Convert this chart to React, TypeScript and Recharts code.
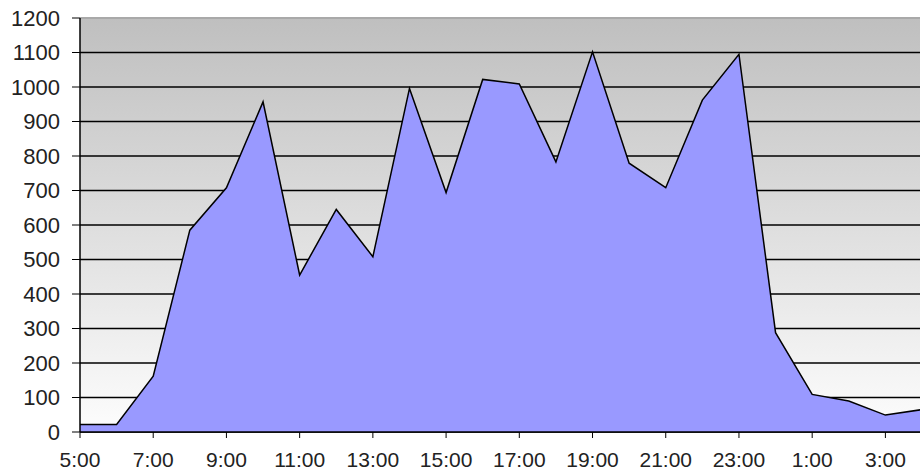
import React from "react"
import {
  AreaChart,
  Area,
  XAxis,
  YAxis,
  CartesianGrid,
  ReferenceLine,
} from "recharts"

// hourly readings, 5:00 through 4:00 the next morning
const hours = [
  "5:00", "6:00", "7:00", "8:00", "9:00", "10:00", "11:00", "12:00",
  "13:00", "14:00", "15:00", "16:00", "17:00", "18:00", "19:00", "20:00",
  "21:00", "22:00", "23:00", "0:00", "1:00", "2:00", "3:00", "4:00",
]

const counts = [
  22, 22, 162, 585, 708, 957, 455, 645, 508, 996, 694, 1022,
  1009, 783, 1102, 779, 708, 962, 1095, 288, 109, 90, 49, 65,
]

const yTicks = [0, 100, 200, 300, 400, 500, 600, 700, 800, 900, 1000, 1100, 1200]

const data = hours.map((hour, i) => ({ hour, count: counts[i] }))

const font = "'Liberation Sans', Arial, sans-serif"

export default function App() {
  return (
    <div
      style={{
        position: "absolute",
        left: 0,
        top: 0,
        width: 920,
        height: 476,
        overflow: "hidden",
        background: "#fff",
      }}
    >
      <AreaChart
        width={930}
        height={476}
        data={data}
        margin={{ top: 18, right: 8, left: 0, bottom: 0 }}
      >
        <defs>
          <linearGradient id="plotBg" x1="0" y1="0" x2="0" y2="1">
            <stop offset="0%" stopColor="#bfbfbf" />
            <stop offset="100%" stopColor="#fdfdfd" />
          </linearGradient>
        </defs>
        <CartesianGrid
          vertical={false}
          stroke="#000"
          strokeWidth={1.3}
          fill="url(#plotBg)"
        />
        <XAxis
          dataKey="hour"
          interval={1}
          padding={{ left: 0, right: 0 }}
          height={44}
          tickSize={6}
          tickMargin={14}
          axisLine={{ stroke: "#000", strokeWidth: 1.5 }}
          tickLine={{ stroke: "#000" }}
          tick={{ fill: "#222", fontSize: 21, fontFamily: font }}
        />
        <YAxis
          domain={[0, 1200]}
          ticks={yTicks}
          width={80}
          tickSize={8}
          tickMargin={12}
          axisLine={{ stroke: "#000", strokeWidth: 1.5 }}
          tickLine={{ stroke: "#000" }}
          tick={{ fill: "#222", fontSize: 22, fontFamily: font }}
        />
        <ReferenceLine y={1200} stroke="#a9a9a9" strokeWidth={2} />
        <Area
          type="linear"
          dataKey="count"
          stroke="#000"
          strokeWidth={1.5}
          fill="#9999ff"
          fillOpacity={1}
          isAnimationActive={false}
          dot={false}
          activeDot={false}
        />
      </AreaChart>
    </div>
  )
}
